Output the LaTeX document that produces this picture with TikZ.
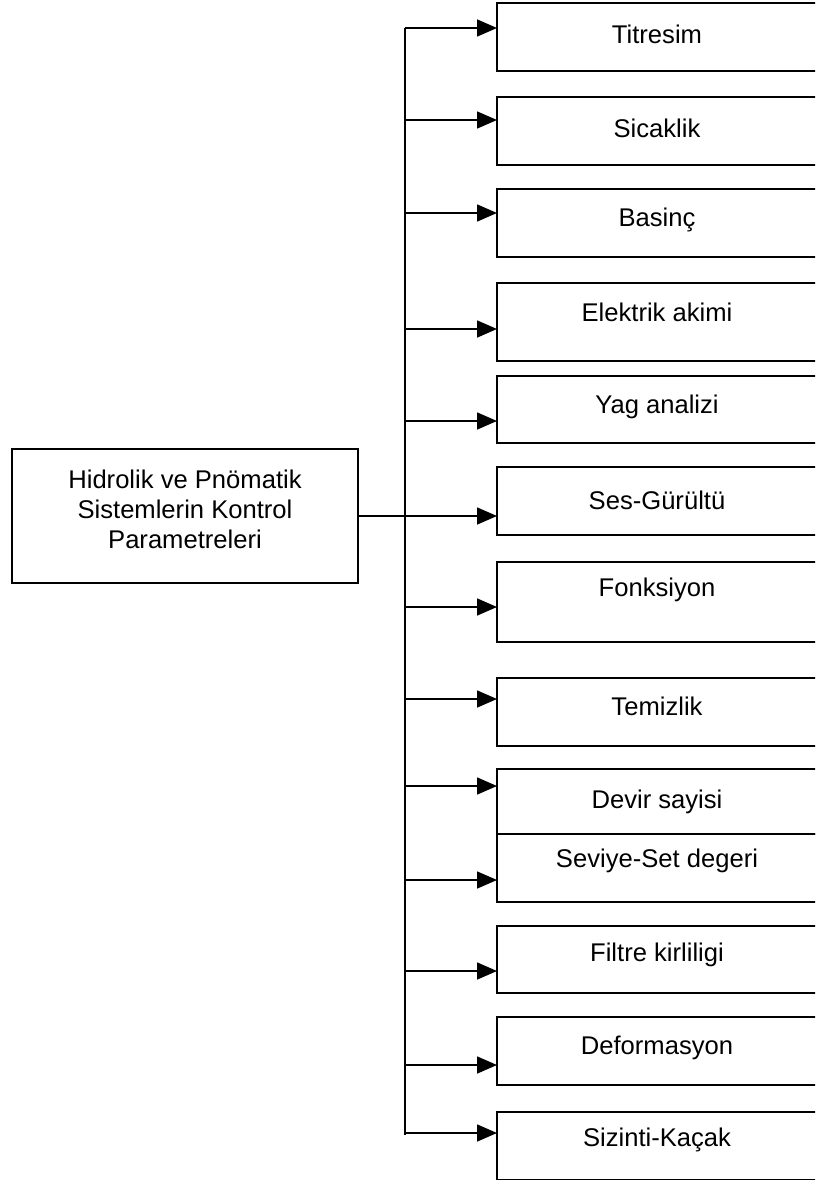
\documentclass[tikz,border=0pt]{standalone}
\usepackage{fontspec}
\setmainfont{Liberation Sans}
\usetikzlibrary{arrows.meta}
\begin{document}
\begin{tikzpicture}[x=1pt,y=-1pt,
  every node/.style={inner sep=0pt,outer sep=0pt,font=\fontsize{25.6}{30}\selectfont},
  pbox/.style={draw,line width=1.6pt,anchor=north west,minimum width=343pt},
  ptext/.style={anchor=center},
  conn/.style={line width=1.6pt},
  arr/.style={line width=1.6pt,-{Triangle[length=20pt,width=17pt]}}]
\useasboundingbox (0,0) rectangle (815,1180);
\clip (0,0) rectangle (815,1180);
% main box
\node[pbox,minimum width=346pt,minimum height=134pt] (main) at (12,449) {};
\node[ptext,align=center] (mt) at (185,509) {Hidrolik ve Pnömatik\\Sistemlerin Kontrol\\Parametreleri};
% right boxes
\node[pbox,minimum height=68pt] (b1) at (497,3) {};
\node[pbox,minimum height=68pt] (b2) at (497,97) {};
\node[pbox,minimum height=68pt] (b3) at (497,189) {};
\node[pbox,minimum height=78pt] (b4) at (497,283) {};
\node[pbox,minimum height=67pt] (b5) at (497,376) {};
\node[pbox,minimum height=68pt] (b6) at (497,467) {};
\node[pbox,minimum height=80pt] (b7) at (497,562) {};
\node[pbox,minimum height=68pt] (b8) at (497,678) {};
\node[pbox,minimum height=65pt] (b9) at (497,769) {};
\node[pbox,minimum height=68pt] (b10) at (497,834) {};
\node[pbox,minimum height=67pt] (b11) at (497,926) {};
\node[pbox,minimum height=68pt] (b12) at (497,1017) {};
\node[pbox,minimum height=68pt] (b13) at (497,1112) {};
% texts
\node[ptext] (t1) at (657,34) {Titresim};
\node[ptext] (t2) at (657,128) {Sicaklik};
\node[ptext] (t3) at (657,220) {Basinç};
\node[ptext] (t4) at (657,312) {Elektrik akimi};
\node[ptext] (t5) at (657,407) {Yag analizi};
\node[ptext] (t6) at (657,500) {Ses-Gürültü};
\node[ptext] (t7) at (657,590) {Fonksiyon};
\node[ptext] (t8) at (657,706) {Temizlik};
\node[ptext] (t9) at (657,802) {Devir sayisi};
\node[ptext] (t10) at (657,861) {Seviye-Set degeri};
\node[ptext] (t11) at (657,955) {Filtre kirliligi};
\node[ptext] (t12) at (657,1048) {Deformasyon};
\node[ptext] (t13) at (657,1140) {Sizinti-Kaçak};
% bus
\coordinate (bt) at (405,28);
\coordinate (bb) at (405,1135);
\draw[conn] (bt) -- (bb);
\coordinate (j1) at (405,28);
\coordinate (j2) at (405,120);
\coordinate (j3) at (405,213);
\coordinate (j4) at (405,329);
\coordinate (j5) at (405,421);
\coordinate (j7) at (405,607);
\coordinate (j8) at (405,699);
\coordinate (j9) at (405,786);
\coordinate (j10) at (405,880);
\coordinate (j11) at (405,971);
\coordinate (j12) at (405,1065);
\coordinate (j13) at (405,1133);
\draw[arr] (j1) -- (j1 -| b1.west);
\draw[arr] (j2) -- (j2 -| b2.west);
\draw[arr] (j3) -- (j3 -| b3.west);
\draw[arr] (j4) -- (j4 -| b4.west);
\draw[arr] (j5) -- (j5 -| b5.west);
\draw[arr] (main.east) -- (main.east -| b6.west);
\draw[arr] (j7) -- (j7 -| b7.west);
\draw[arr] (j8) -- (j8 -| b8.west);
\draw[arr] (j9) -- (j9 -| b9.west);
\draw[arr] (j10) -- (j10 -| b10.west);
\draw[arr] (j11) -- (j11 -| b11.west);
\draw[arr] (j12) -- (j12 -| b12.west);
\draw[arr] (j13) -- (j13 -| b13.west);
\end{tikzpicture}
\end{document}
